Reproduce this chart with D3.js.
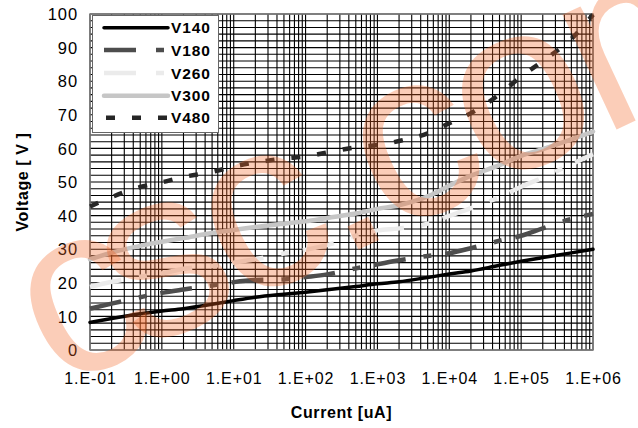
<!DOCTYPE html>
<html><head><meta charset="utf-8">
<script src="https://cdn.jsdelivr.net/npm/d3@7"></script>
<style>
html,body{margin:0;padding:0;background:#fff;}
svg{display:block;font-family:"Liberation Sans",Arial,sans-serif;}
</style></head>
<body><svg id="c" width="638" height="428"></svg>
<script>
const currents = [0.1,0.2,0.5,1,2,5,10,20,50,100,200,500,1000,2000,5000,1e4,2e4,5e4,1e5,2e5,5e5,1e6];
const V140 = [8.2,9.4,10.8,11.6,12.3,13.6,14.7,15.7,16.6,17.2,17.9,18.9,19.7,20.3,21.6,22.6,23.5,25.2,26.4,27.5,28.9,30.0];
const V180 = [12.3,13.8,15.7,17.0,18.0,19.2,20.2,20.8,21.0,21.7,22.5,24.3,25.5,26.7,28.0,28.8,30.3,32.5,34.0,36.2,39.0,40.5];
const V260 = [18.8,20.3,21.8,22.8,24.2,25.0,26.0,27.0,28.7,29.8,31.2,34.0,35.6,36.2,37.6,39.9,42.2,45.5,48.6,51.3,55.3,58.3];
const V300 = [27.0,29.0,31.0,32.2,33.3,34.8,35.7,36.6,37.6,38.3,39.3,40.6,42.0,43.1,45.7,48.9,51.9,55.0,57.8,59.8,62.7,65.0];
const V480 = [42.7,45.5,48.5,49.9,51.5,53.0,54.6,55.8,57.0,57.6,58.8,60.3,61.0,62.2,64.5,67.5,70.5,76.1,81.4,86.0,92.6,99.8];
const seriesNames = ["V140","V180","V260","V300","V480"];
const seriesValues = [V140,V180,V260,V300,V480];
const xTickValues = [0.1,1,10,100,1000,1e4,1e5,1e6];
const xTickLabels = ["1.E-01","1.E+00","1.E+01","1.E+02","1.E+03","1.E+04","1.E+05","1.E+06"];
const yTickValues = [0,10,20,30,40,50,60,70,80,90,100];

const styles = [
  {color:"#000000", width:3.5, dash:null},
  {color:"#4d4d4d", width:4.5, dash:"32,18,8,14"},
  {color:"#ebebeb", width:4.5, dash:"32,18,8,14"},
  {color:"#c6c6c6", width:4.5, dash:null},
  {color:"#262626", width:4.5, dash:"9,17"}
];

const svg = d3.select("#c");
const L=90, R=593, T=14, B=350;
const x = d3.scaleLog().domain([0.1,1e6]).range([L,R]);
const y = d3.scaleLinear().domain([0,100]).range([B,T]);

const g = svg.append("g");
// grid: every 1..9 per decade, every 2 V
const gridX = [];
for (let e=-1;e<6;e++) for (let m=1;m<=9;m++) gridX.push(m*Math.pow(10,e));
gridX.push(1e6);
g.selectAll(".vx").data(gridX).enter().append("line")
  .attr("x1",d=>x(d)).attr("x2",d=>x(d))
  .attr("y1",T).attr("y2",B).attr("stroke","#000").attr("stroke-width",1.1);
const gridY = d3.range(0,101,2);
g.selectAll(".hy").data(gridY).enter().append("line")
  .attr("x1",L).attr("x2",R).attr("y1",d=>y(d)).attr("y2",d=>y(d))
  .attr("stroke","#000").attr("stroke-width",1.1);
g.append("rect").attr("x",L).attr("y",T).attr("width",R-L).attr("height",B-T)
  .attr("fill","none").attr("stroke","#808080").attr("stroke-width",1.5);

// axes
const xAxis = d3.axisBottom(x).tickValues(xTickValues).tickFormat((d,i)=>xTickLabels[i]).tickSize(0).tickPadding(0);
const xa = svg.append("g").attr("transform",`translate(0,${B})`).call(xAxis);
xa.select(".domain").remove();
xa.selectAll("text").attr("y",34).attr("dy",0).attr("fill","#000")
  .style("font-size","16px").style("letter-spacing","0.9px").style("font-family","Liberation Sans, Arial");
const yAxis = d3.axisLeft(y).tickValues(yTickValues).tickSize(0).tickPadding(0);
const ya = svg.append("g").attr("transform",`translate(${L},0)`).call(yAxis);
ya.select(".domain").remove();
ya.selectAll("text").attr("x",-12).attr("dy","0.35em").attr("fill","#000")
  .style("font-size","16.5px").style("letter-spacing","0.9px").style("font-family","Liberation Sans, Arial");

// lines
const line = d3.line().x((d,i)=>x(currents[i])).y(d=>y(d)).curve(d3.curveMonotoneX);
const lg = svg.append("g");
seriesValues.forEach((vals,k)=>{
  const p = lg.append("path").datum(vals).attr("d",line).attr("fill","none")
    .attr("stroke",styles[k].color).attr("stroke-width",styles[k].width).attr("stroke-linejoin","round");
  if (styles[k].dash) p.attr("stroke-dasharray",styles[k].dash);
  else p.attr("stroke-linecap","round");
});

// legend
const leg = svg.append("g");
leg.append("rect").attr("x",92.5).attr("y",15.5).attr("width",126).attr("height",117)
  .attr("fill","#fff").attr("stroke","#666").attr("stroke-width",1);
const legY = [27.7,50,73,95.7,117.7];
seriesNames.forEach((n,k)=>{
  const l = leg.append("line").attr("x1",k===4?106:104).attr("x2",168).attr("y1",legY[k]).attr("y2",legY[k])
    .attr("stroke",styles[k].color).attr("stroke-width",styles[k].width);
  if (styles[k].dash) l.attr("stroke-dasharray", k===4?"9,17":"32,20,8,14");
  else l.attr("stroke-linecap","round");
  leg.append("text").attr("x",171).attr("y",legY[k]+5.5).text(n)
    .style("font-size","15.5px").style("font-weight","bold").style("letter-spacing","0.9px");
});

// axis titles
svg.append("text").attr("x",(L+R)/2).attr("y",418).attr("text-anchor","middle")
  .style("font-size","16px").style("font-weight","bold").style("letter-spacing","0.6px").text("Current [uA]");
svg.append("text").attr("transform",`translate(28,${(T+B)/2}) rotate(-90)`).attr("text-anchor","middle")
  .style("font-size","16px").style("font-weight","bold").style("letter-spacing","0.6px").text("Voltage [ V ]");

// watermark
const wm = svg.append("text").attr("transform","translate(57.6,390.1) rotate(-25)")
  .style("font-size","240px").style("font-family","Liberation Sans, Arial").style("letter-spacing","-10px")
  .attr("fill","#F26522").attr("fill-opacity",0.32);
wm.append("tspan").text("c");
wm.append("tspan").attr("dx",-20).text("sc.com");
</script></body></html>
